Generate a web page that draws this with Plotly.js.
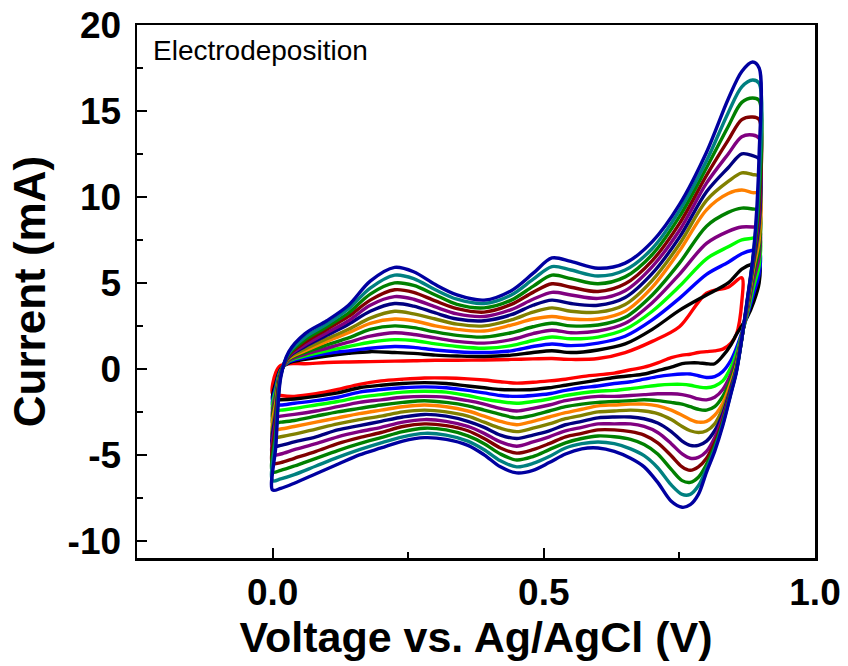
<!DOCTYPE html>
<html><head><meta charset="utf-8">
<script src="https://cdn.plot.ly/plotly-3.0.1.min.js"></script>
<style>html,body{margin:0;padding:0;background:#fff}</style>
</head><body><div id="chart" style="width:848px;height:666px"></div>
<script>
// Potential grids (V vs Ag/AgCl): forward (anodic) and reverse (cathodic) sweeps
const potentialForward = [0, 0.006, 0.015, 0.03, 0.06, 0.10, 0.14, 0.18, 0.225, 0.26, 0.30, 0.34, 0.39, 0.44, 0.48, 0.515, 0.55, 0.60, 0.65, 0.70, 0.75, 0.80, 0.84, 0.865, 0.885, 0.897];
const potentialReverse = [0.897, 0.887, 0.875, 0.865, 0.855, 0.845, 0.83, 0.815, 0.80, 0.785, 0.77, 0.755, 0.735, 0.71, 0.685, 0.66, 0.63, 0.60, 0.57, 0.54, 0.51, 0.48, 0.45, 0.42, 0.39, 0.36, 0.32, 0.28, 0.24, 0.20, 0.16, 0.12, 0.08, 0.04, 0.015, 0.0];

// Current (mA), forward sweep, cycles 1..14
const fwd1  = [-1.45, -0.2, 0.2, 0.3, 0.3, 0.37, 0.4, 0.42, 0.45, 0.47, 0.5, 0.5, 0.52, 0.55, 0.58, 0.6, 0.55, 0.6, 0.95, 1.6, 2.45, 4.4, 4.75, 5.3, null, null];
const fwd2  = [-1.8, -0.8, 0.0, 0.35, 0.55, 0.75, 0.9, 1.0, 0.95, 0.9, 0.8, 0.75, 0.72, 0.8, 0.95, 1.05, 0.95, 1.1, 1.45, 2.3, 3.4, 4.3, 5.0, 5.8, 6.1, 6.1];
const fwd3  = [-2.1, -1.0, -0.05, 0.4, 0.65, 0.9, 1.05, 1.2, 1.3, 1.25, 1.1, 1.0, 0.95, 1.05, 1.3, 1.45, 1.35, 1.5, 1.9, 2.85, 4.1, 5.5, 6.2, 6.7, 6.9, 6.9];
const fwd4  = [-2.4, -1.2, -0.1, 0.45, 0.75, 1.05, 1.3, 1.55, 1.7, 1.65, 1.45, 1.3, 1.2, 1.35, 1.65, 1.85, 1.75, 1.85, 2.3, 3.35, 4.8, 6.4, 7.1, 7.5, 7.6, 7.7];
const fwd5  = [-2.8, -1.45, -0.15, 0.5, 0.85, 1.2, 1.55, 1.9, 2.1, 2.0, 1.8, 1.6, 1.5, 1.7, 2.05, 2.25, 2.1, 2.2, 2.65, 3.85, 5.5, 7.3, 8.0, 8.25, 8.25, 8.2];
const fwd6  = [-3.15, -1.7, -0.15, 0.55, 0.95, 1.4, 1.8, 2.3, 2.5, 2.4, 2.15, 1.95, 1.85, 2.1, 2.45, 2.65, 2.5, 2.55, 3.0, 4.3, 6.15, 8.3, 9.1, 9.35, 9.3, 9.2];
const fwd7  = [-3.55, -1.95, -0.2, 0.6, 1.05, 1.6, 2.1, 2.65, 2.9, 2.8, 2.5, 2.3, 2.2, 2.55, 2.9, 3.05, 2.9, 2.9, 3.35, 4.75, 6.85, 9.25, 10.2, 10.4, 10.25, 10.2];
const fwd8  = [-4.0, -2.25, -0.2, 0.65, 1.15, 1.75, 2.3, 2.95, 3.35, 3.2, 2.9, 2.6, 2.5, 2.85, 3.3, 3.55, 3.35, 3.3, 3.75, 5.15, 7.25, 9.8, 10.9, 11.4, 11.3, 11.2];
const fwd9  = [-4.5, -2.55, -0.25, 0.7, 1.3, 1.95, 2.6, 3.35, 3.8, 3.65, 3.25, 2.9, 2.8, 3.15, 3.7, 4.0, 3.8, 3.7, 4.15, 5.55, 7.65, 10.3, 11.7, 12.5, 12.4, 12.2];
const fwd10 = [-5.0, -2.9, -0.3, 0.75, 1.4, 2.1, 2.8, 3.7, 4.2, 4.05, 3.6, 3.2, 3.05, 3.45, 4.05, 4.45, 4.3, 4.1, 4.55, 5.95, 8.05, 10.8, 12.5, 13.5, 13.6, 13.4];
const fwd11 = [-5.5, -3.25, -0.3, 0.8, 1.55, 2.3, 3.05, 4.0, 4.6, 4.45, 3.95, 3.5, 3.3, 3.75, 4.45, 4.95, 4.75, 4.5, 4.95, 6.3, 8.45, 11.25, 13.3, 14.5, 14.65, 14.5];
const fwd12 = [-6.0, -3.6, -0.35, 0.85, 1.7, 2.45, 3.25, 4.35, 5.0, 4.85, 4.3, 3.75, 3.55, 4.0, 4.8, 5.45, 5.25, 4.95, 5.35, 6.65, 8.85, 11.7, 14.1, 15.5, 15.75, 15.6];
const fwd13 = [-6.5, -4.0, -0.4, 0.92, 1.85, 2.6, 3.5, 4.7, 5.45, 5.25, 4.6, 4.05, 3.8, 4.3, 5.2, 5.95, 5.75, 5.4, 5.75, 7.0, 9.2, 12.1, 14.9, 16.4, 16.8, 16.6];
const fwd14 = [-7.05, -4.5, -0.5, 1.0, 2.05, 2.8, 3.7, 5.1, 5.9, 5.65, 4.9, 4.3, 4.0, 4.55, 5.55, 6.45, 6.25, 5.85, 6.15, 7.4, 9.55, 12.6, 15.7, 17.3, 17.85, 17.5];

// Current (mA), reverse sweep, cycles 1..14
const rev1  = [null, null, null, 3.9, 2.0, 1.5, 1.15, 1.05, 1.0, 0.95, 0.85, 0.8, 0.65, 0.35, 0.1, -0.05, -0.25, -0.35, -0.45, -0.6, -0.7, -0.78, -0.83, -0.75, -0.65, -0.58, -0.53, -0.53, -0.6, -0.7, -0.9, -1.2, -1.45, -1.6, -1.55, -1.45];
const rev2  = [5.0, 3.9, 3.0, 2.5, 2.0, 1.4, 0.75, 0.3, 0.3, 0.35, 0.35, 0.3, 0.1, -0.1, -0.3, -0.4, -0.5, -0.65, -0.8, -0.95, -1.1, -1.2, -1.22, -1.2, -1.1, -1.0, -0.85, -0.8, -0.85, -0.95, -1.1, -1.4, -1.6, -1.75, -1.8, -1.8];
const rev3  = [5.5, 4.4, 3.1, 2.1, 1.2, 0.5, -0.15, -0.45, -0.5, -0.4, -0.3, -0.3, -0.35, -0.45, -0.6, -0.75, -0.85, -1.0, -1.1, -1.25, -1.45, -1.55, -1.6, -1.55, -1.4, -1.25, -1.1, -1.05, -1.1, -1.2, -1.35, -1.65, -1.85, -2.0, -2.1, -2.1];
const rev4  = [6.0, 4.8, 3.2, 2.0, 0.9, 0.1, -0.7, -1.0, -1.1, -1.05, -0.95, -0.9, -0.9, -0.95, -1.05, -1.15, -1.25, -1.3, -1.4, -1.55, -1.75, -1.9, -2.0, -1.9, -1.75, -1.55, -1.35, -1.3, -1.35, -1.5, -1.65, -1.9, -2.1, -2.3, -2.4, -2.4];
const rev5  = [6.5, 5.2, 3.35, 1.95, 0.6, -0.3, -1.2, -1.65, -1.8, -1.75, -1.6, -1.5, -1.45, -1.45, -1.5, -1.55, -1.6, -1.6, -1.7, -1.85, -2.1, -2.3, -2.45, -2.3, -2.05, -1.85, -1.65, -1.6, -1.65, -1.8, -1.95, -2.2, -2.45, -2.65, -2.75, -2.8];
const rev6  = [7.0, 5.6, 3.5, 1.9, 0.4, -0.6, -1.6, -2.2, -2.4, -2.35, -2.2, -2.05, -1.95, -1.85, -1.8, -1.85, -1.9, -1.95, -2.05, -2.2, -2.45, -2.7, -2.85, -2.65, -2.4, -2.15, -1.95, -1.85, -1.95, -2.1, -2.3, -2.5, -2.75, -3.0, -3.1, -3.15];
const rev7  = [7.5, 5.9, 3.6, 1.85, 0.2, -0.8, -2.0, -2.7, -3.05, -3.1, -2.95, -2.7, -2.4, -2.15, -2.05, -2.05, -2.1, -2.15, -2.35, -2.55, -2.8, -3.05, -3.25, -3.05, -2.75, -2.45, -2.2, -2.1, -2.2, -2.4, -2.6, -2.85, -3.1, -3.35, -3.5, -3.55];
const rev8  = [8.0, 6.1, 3.7, 1.8, 0.1, -1.0, -2.3, -3.2, -3.6, -3.7, -3.6, -3.35, -2.95, -2.6, -2.45, -2.4, -2.45, -2.5, -2.7, -2.9, -3.2, -3.45, -3.65, -3.45, -3.1, -2.75, -2.5, -2.4, -2.5, -2.75, -2.95, -3.2, -3.5, -3.8, -3.95, -4.0];
const rev9  = [8.5, 6.3, 3.75, 1.8, 0.0, -1.1, -2.6, -3.6, -4.2, -4.45, -4.45, -4.2, -3.65, -3.15, -2.9, -2.8, -2.8, -2.85, -3.05, -3.25, -3.6, -3.85, -4.05, -3.85, -3.4, -3.05, -2.75, -2.65, -2.8, -3.05, -3.3, -3.55, -3.95, -4.25, -4.45, -4.5];
const rev10 = [9.0, 6.45, 3.8, 1.75, -0.05, -1.2, -2.8, -4.0, -4.8, -5.15, -5.2, -4.95, -4.35, -3.7, -3.35, -3.2, -3.2, -3.2, -3.4, -3.6, -3.95, -4.25, -4.5, -4.25, -3.75, -3.35, -3.05, -2.95, -3.1, -3.4, -3.65, -3.95, -4.35, -4.7, -4.95, -5.0];
const rev11 = [9.5, 6.6, 3.85, 1.75, -0.1, -1.3, -3.0, -4.3, -5.2, -5.7, -5.9, -5.7, -5.05, -4.3, -3.85, -3.65, -3.55, -3.55, -3.75, -3.95, -4.35, -4.7, -4.9, -4.6, -4.05, -3.6, -3.3, -3.2, -3.35, -3.7, -4.0, -4.35, -4.8, -5.2, -5.45, -5.5];
const rev12 = [10.0, 6.7, 3.9, 1.75, -0.1, -1.35, -3.1, -4.5, -5.55, -6.3, -6.6, -6.5, -5.85, -4.95, -4.4, -4.1, -3.95, -3.9, -4.05, -4.3, -4.7, -5.1, -5.3, -4.95, -4.35, -3.9, -3.55, -3.45, -3.65, -4.0, -4.35, -4.75, -5.2, -5.65, -5.9, -6.0];
const rev13 = [11.0, 6.8, 3.95, 1.75, -0.15, -1.4, -3.2, -4.65, -5.8, -6.8, -7.3, -7.3, -6.75, -5.75, -5.05, -4.65, -4.35, -4.25, -4.35, -4.6, -5.1, -5.5, -5.7, -5.35, -4.7, -4.2, -3.85, -3.75, -3.95, -4.3, -4.7, -5.15, -5.65, -6.15, -6.4, -6.5];
const rev14 = [12.5, 6.9, 4.0, 1.75, -0.2, -1.45, -3.3, -4.8, -6.0, -7.3, -7.9, -8.05, -7.7, -6.6, -5.7, -5.2, -4.8, -4.6, -4.65, -4.95, -5.45, -5.9, -6.05, -5.7, -5.0, -4.45, -4.1, -4.0, -4.2, -4.6, -5.0, -5.55, -6.1, -6.65, -6.95, -7.05];

const cycleColors = ['#FF0000', '#000000', '#0000FF', '#00FF00', '#800080', '#008000', '#FF8000', '#808000', '#000080', '#800080', '#800000', '#008000', '#008080', '#0000A0'];

const yTickVals = [-10, -5, 0, 5, 10, 15, 20];
const yTickText = ['-10', '-5', '0', '5', '10', '15', '20'];
const xTickVals = [0, 0.5, 1.0];
const xTickText = ['0.0', '0.5', '1.0'];

const forward = [fwd1, fwd2, fwd3, fwd4, fwd5, fwd6, fwd7, fwd8, fwd9, fwd10, fwd11, fwd12, fwd13, fwd14];
const reverse = [rev1, rev2, rev3, rev4, rev5, rev6, rev7, rev8, rev9, rev10, rev11, rev12, rev13, rev14];

const traces = forward.map((f, i) => ({
  type: 'scatter', mode: 'lines',
  x: potentialForward.concat(potentialReverse),
  y: f.concat(reverse[i]),
  connectgaps: true,
  line: {color: cycleColors[i], width: 3.4, shape: 'spline', smoothing: 0.9},
  hoverinfo: 'skip', showlegend: false
}));

const FONT = '"Liberation Sans", Arial, sans-serif';
const layout = {
  width: 848, height: 666,
  margin: {l: 137, r: 33, t: 25, b: 108, pad: 0},
  paper_bgcolor: '#fff', plot_bgcolor: '#fff',
  showlegend: false,
  font: {family: FONT, color: '#000'},
  xaxis: {
    range: [-0.25, 1.0], fixedrange: true,
    tickmode: 'array', tickvals: xTickVals, ticktext: xTickText,
    ticks: 'inside', ticklen: 10, tickwidth: 2, tickcolor: '#000',
    minor: {tickmode: 'array', tickvals: [0.25, 0.75], ticks: 'inside', ticklen: 6, tickwidth: 2, tickcolor: '#000'},
    showline: true, linewidth: 2.5, linecolor: '#000', mirror: true,
    showgrid: false, zeroline: false,
    tickfont: {family: FONT, size: 37, color: '#000', weight: 'bold'},
    title: {text: '<b>Voltage vs. Ag/AgCl (V)</b>', font: {family: FONT, size: 43, color: '#000'}, standoff: 4},
    automargin: false
  },
  yaxis: {
    range: [-11, 20], fixedrange: true,
    tickmode: 'array', tickvals: yTickVals, ticktext: yTickText,
    ticks: 'inside', ticklen: 10, tickwidth: 2, tickcolor: '#000',
    minor: {tickmode: 'array', tickvals: [-7.5, -2.5, 2.5, 7.5, 12.5, 17.5], ticks: 'inside', ticklen: 6, tickwidth: 2, tickcolor: '#000'},
    showline: true, linewidth: 2.5, linecolor: '#000', mirror: true,
    showgrid: false, zeroline: false,
    ticklabelstandoff: 6,
    tickfont: {family: FONT, size: 37, color: '#000', weight: 'bold'},
    title: {text: '<b>Current (mA)</b>', font: {family: FONT, size: 44, color: '#000'}, standoff: 8},
    automargin: false
  },
  annotations: [{
    text: 'Electrodeposition', xref: 'paper', yref: 'paper', x: 0.021, y: 0.985,
    xanchor: 'left', yanchor: 'top', showarrow: false,
    font: {family: FONT, size: 28, color: '#000'}
  }]
};

Plotly.newPlot('chart', traces, layout, {staticPlot: true, displayModeBar: false});
</script>
</body></html>
